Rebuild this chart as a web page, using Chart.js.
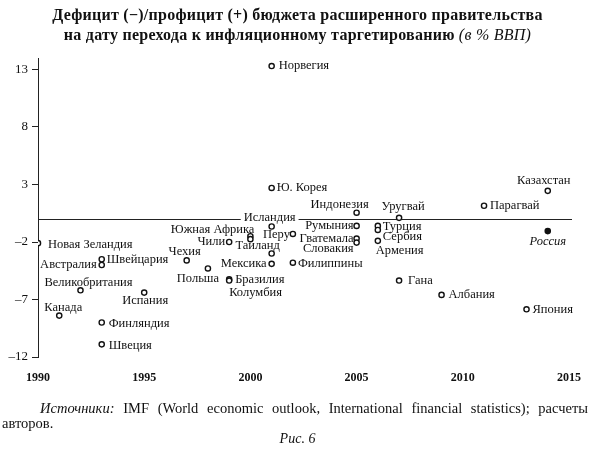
<!DOCTYPE html>
<html lang="ru">
<head>
<meta charset="utf-8">
<script src="https://cdn.jsdelivr.net/npm/chart.js@4.4.1/dist/chart.umd.min.js"></script>
<style>
  html, body { margin: 0; padding: 0; background: #fff; }
  #wrap { position: relative; width: 595px; height: 449px; font-family: "Liberation Serif", serif; color: #111; }
  #box { position: absolute; left: 0; top: 0; width: 595px; height: 449px; }
  .title { position: absolute; left: 0; width: 595px; text-align: center; font-weight: bold; font-size: 16px; letter-spacing: 0.25px; line-height: 20px; }
  .title i { font-weight: normal; }
  .src { position: absolute; left: 2px; width: 586px; top: 401px; font-size: 14.5px; line-height: 15px; text-indent: 38px; text-align: justify; text-align-last: justify; }
  .src2 { position: absolute; left: 2px; top: 416px; font-size: 14.5px; line-height: 15px; }
  .fig { position: absolute; left: 0; width: 595px; top: 431px; text-align: center; font-size: 14px; font-style: italic; }
</style>
</head>
<body>
<div id="wrap">
  <div id="box"><canvas id="grafico"></canvas></div>
  <div class="title" style="top:5px">Дефицит (−)/профицит (+) бюджета расширенного правительства</div>
  <div class="title" style="top:25px">на дату перехода к инфляционному таргетированию <i>(в % ВВП)</i></div>
  <div class="src"><i>Источники:</i> IMF (World economic outlook, International financial statistics); расчеты</div>
  <div class="src2">авторов.</div>
  <div class="fig">Рис. 6</div>
</div>
<script>
// страны, год перехода к ИТ и сальдо бюджета (% ВВП)
const paises = ['Новая Зеландия', 'Австралия', 'Швейцария', 'Великобритания', 'Канада', 'Финляндия', 'Швеция',
    'Испания', 'Чехия', 'Польша', 'Чили', 'Южная Африка', 'Таиланд', 'Исландия', 'Перу', 'Мексика', '',
    'Бразилия', 'Колумбия', 'Филиппины', 'Ю. Корея', 'Норвегия', 'Индонезия', 'Румыния', 'Гватемала',
    'Словакия', 'Уругвай', 'Турция', 'Сербия', 'Армения', 'Гана', 'Албания', 'Парагвай', 'Казахстан',
    'Россия', 'Япония'];
const anios = [1990, 1993, 1993, 1992, 1991, 1993, 1993,
    1995, 1997, 1998, 1999, 2000, 2000, 2001, 2002, 2001, 2001,
    1999, 1999, 2002, 2001, 2001, 2005, 2005, 2005,
    2005, 2007, 2006, 2006, 2006, 2007, 2009, 2011, 2014,
    2014, 2013];
const saldo = [-2.1, -4.0, -3.5, -6.2, -8.4, -9.0, -10.9,
    -6.4, -3.6, -4.3, -2.0, -1.5, -1.75, -0.65, -1.3, -3.9, -3.0,
    -5.25, -5.35, -3.8, 2.7, 13.3, 0.55, -0.6, -1.7,
    -2.05, 0.1, -0.6, -0.95, -1.9, -5.35, -6.6, 1.15, 2.45,
    -1.05, -7.85];
const ticksX = [1990, 1995, 2000, 2005, 2010, 2015];
const ticksY = [13, 8, 3, -2, -7, -12];
const destacado = 'Россия';

// где ставить подпись: [выравнивание, dx, dy]
const colocacion = {
    'Новая Зеландия': ['left', 10, 2], 'Австралия': ['right', -5, 0], 'Швейцария': ['left', 5, 0],
    'Великобритания': ['center', 8, -8], 'Канада': ['center', 4, -8], 'Финляндия': ['left', 7, 1],
    'Швеция': ['left', 7, 1], 'Испания': ['center', 1, 8], 'Чехия': ['center', -2, -9],
    'Польша': ['center', -10, 10], 'Чили': ['right', -4, 0], 'Южная Африка': ['right', 4, -7],
    'Таиланд': ['left', -15, 7], 'Исландия': ['center', -2, -9], 'Перу': ['right', -3, 1],
    'Мексика': ['right', -5, 0], 'Бразилия': ['left', 6, 0], 'Колумбия': ['left', 0, 12],
    'Филиппины': ['left', 5, 1], 'Ю. Корея': ['left', 5, 0], 'Норвегия': ['left', 7, 0],
    'Индонезия': ['center', -17, -8], 'Румыния': ['right', -3, 0], 'Гватемала': ['right', -3, 0],
    'Словакия': ['right', -3, 6], 'Уругвай': ['center', 4, -11], 'Турция': ['left', 5, 1],
    'Сербия': ['left', 5, 7], 'Армения': ['left', -2, 10], 'Гана': ['left', 9, 0],
    'Албания': ['left', 7, 0], 'Япония': ['left', 6, 0], 'Парагвай': ['left', 6, 0],
    'Казахстан': ['center', -4, -10], 'Россия': ['center', 0, 11]
};

const etiquetas = {
    id: 'etiquetas',
    beforeDatasetsDraw(chart) {
        const { ctx, chartArea, scales } = chart;
        const y0 = Math.round(scales.y.getPixelForValue(0)) + 0.5;
        ctx.save();
        ctx.strokeStyle = '#222';
        ctx.lineWidth = 1;
        ctx.beginPath();
        ctx.moveTo(chartArea.left, y0);
        ctx.lineTo(chartArea.right + 3, y0);
        ctx.stroke();
        ctx.restore();
    },
    afterDatasetsDraw(chart) {
        const { ctx } = chart;
        const meta = chart.getDatasetMeta(0);
        ctx.save();
        ctx.textBaseline = 'middle';
        ctx.fillStyle = '#111';
        meta.data.forEach((pt, i) => {
            const nombre = paises[i];
            if (!nombre || !colocacion[nombre]) return;
            const [al, dx, dy] = colocacion[nombre];
            ctx.font = (nombre === destacado ? 'italic ' : '') + '12.5px "Liberation Serif"';
            ctx.textAlign = al;
            const x = pt.x + dx, y = pt.y + dy;
            if (nombre === 'Исландия') {
                const w = ctx.measureText(nombre).width;
                ctx.fillStyle = '#fff';
                ctx.fillRect(x - w / 2 - 3, y - 5, w + 6, 10);
                ctx.fillStyle = '#111';
            }
            ctx.fillText(nombre, x, y);
        });
        ctx.restore();
    }
};

new Chart(document.getElementById('grafico').getContext('2d'), {
    type: 'scatter',
    data: {
        datasets: [{
            data: anios.map((a, i) => ({ x: a, y: saldo[i] })),
            pointRadius: 2.6,
            pointHoverRadius: 2.6,
            pointBorderWidth: 1.4,
            pointBorderColor: '#111',
            pointBackgroundColor: c => paises[c.dataIndex] === destacado ? '#111' : '#fff'
        }]
    },
    options: {
        responsive: true,
        maintainAspectRatio: false,
        animation: false,
        events: [],
        layout: { padding: { top: 58, right: 24, bottom: 60, left: 0 } },
        plugins: { legend: { display: false }, tooltip: { enabled: false } },
        scales: {
            x: {
                type: 'linear',
                min: 1990,
                max: 2015,
                afterBuildTicks: s => { s.ticks = ticksX.map(v => ({ value: v })); },
                afterFit: s => { s.height = 32; },
                grid: { display: false, drawTicks: false },
                border: { display: false },
                ticks: {
                    padding: 14,
                    color: '#111',
                    font: { family: '"Liberation Serif"', size: 12, weight: 'bold' },
                    callback: v => String(v)
                }
            },
            y: {
                min: -12,
                max: 14,
                afterBuildTicks: s => { s.ticks = ticksY.map(v => ({ value: v })); },
                afterFit: s => { s.width = 38; },
                grid: { drawOnChartArea: false, tickLength: 6, color: '#222' },
                border: { color: '#222', width: 1 },
                ticks: {
                    padding: 4,
                    color: '#111',
                    font: { family: '"Liberation Serif"', size: 13 },
                    callback: v => v < 0 ? '–' + Math.abs(v) : String(v)
                }
            }
        }
    },
    plugins: [etiquetas]
});
</script>
</body>
</html>
